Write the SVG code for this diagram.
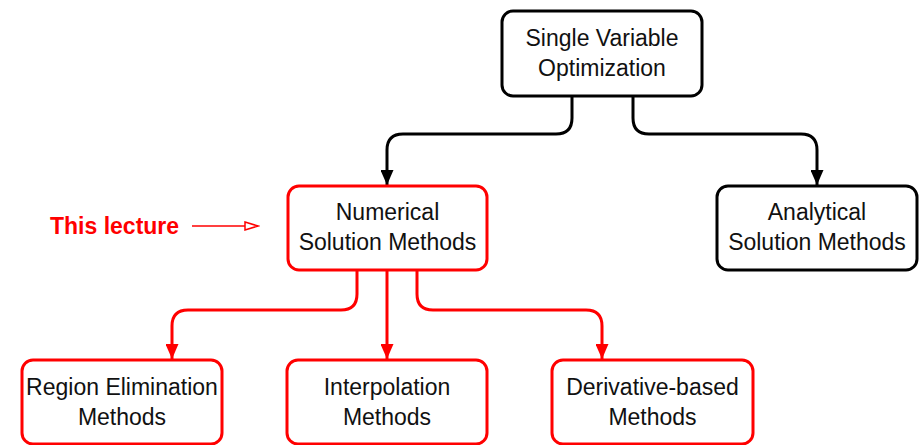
<svg xmlns="http://www.w3.org/2000/svg" width="922" height="445" viewBox="0 0 922 445">
  <style>
    .box { fill: #ffffff; stroke-width: 3; }
    .blk { stroke: #000000; }
    .red { stroke: #ff0000; }
    .lbl { font-family: "Liberation Sans", Arial, sans-serif; font-size: 23px; fill: #111111; text-anchor: middle; }
    .conn { fill: none; stroke-width: 3; }
  </style>
  <defs>
    <marker id="ahB" markerUnits="userSpaceOnUse" markerWidth="17" markerHeight="13" refX="15" refY="6.5" orient="auto">
      <path d="M0,0 L15,6.5 L0,13 z" fill="#000000"/>
    </marker>
    <marker id="ahR" markerUnits="userSpaceOnUse" markerWidth="17" markerHeight="13" refX="15" refY="6.5" orient="auto">
      <path d="M0,0 L15,6.5 L0,13 z" fill="#ff0000"/>
    </marker>
    <marker id="ahOpen" markerUnits="userSpaceOnUse" markerWidth="16" markerHeight="11" refX="14" refY="5" orient="auto">
      <path d="M1,1 L14,5 L1,9 z" fill="#ffffff" stroke="#ff0000" stroke-width="1.5"/>
    </marker>
  </defs>

  <g id="connectors">
    <path class="conn blk" d="M572,96 L572,118 Q572,134 556,134 L403,134 Q387,134 387,150 L387,185" marker-end="url(#ahB)"/>
    <path class="conn blk" d="M633,96 L633,118 Q633,134 649,134 L801,134 Q817,134 817,150 L817,185" marker-end="url(#ahB)"/>
    <path class="conn red" d="M357,271 L357,294 Q357,310 341,310 L188,310 Q172,310 172,326 L172,359" marker-end="url(#ahR)"/>
    <path class="conn red" d="M387,271 L387,359" marker-end="url(#ahR)"/>
    <path class="conn red" d="M417,271 L417,294 Q417,310 433,310 L586,310 Q602,310 602,326 L602,359" marker-end="url(#ahR)"/>
    <path d="M192,226 L258,226" fill="none" stroke="#ff0000" stroke-width="1.5" marker-end="url(#ahOpen)"/>
  </g>

  <g id="this-lecture">
    <text x="50" y="234" font-family="'Liberation Sans', Arial, sans-serif" font-size="23" font-weight="bold" fill="#ff0000">This lecture</text>
  </g>

  <g id="single-variable">
    <rect class="box blk" x="502" y="11" width="200" height="85" rx="11"/>
    <text class="lbl" x="602" y="46">Single Variable</text>
    <text class="lbl" x="602" y="76">Optimization</text>
  </g>

  <g id="numerical">
    <rect class="box red" x="288" y="186" width="199" height="84" rx="11"/>
    <text class="lbl" x="387.5" y="220">Numerical</text>
    <text class="lbl" x="387.5" y="250">Solution Methods</text>
  </g>

  <g id="analytical">
    <rect class="box blk" x="717" y="186" width="200" height="84" rx="11"/>
    <text class="lbl" x="817" y="220">Analytical</text>
    <text class="lbl" x="817" y="250">Solution Methods</text>
  </g>

  <g id="region-elimination">
    <rect class="box red" x="22" y="360" width="200" height="84" rx="11"/>
    <text class="lbl" x="122" y="395">Region Elimination</text>
    <text class="lbl" x="122" y="425">Methods</text>
  </g>

  <g id="interpolation">
    <rect class="box red" x="287" y="360" width="200" height="84" rx="11"/>
    <text class="lbl" x="387" y="395">Interpolation</text>
    <text class="lbl" x="387" y="425">Methods</text>
  </g>

  <g id="derivative-based">
    <rect class="box red" x="552" y="360" width="201" height="84" rx="11"/>
    <text class="lbl" x="652.5" y="395">Derivative-based</text>
    <text class="lbl" x="652.5" y="425">Methods</text>
  </g>
</svg>
